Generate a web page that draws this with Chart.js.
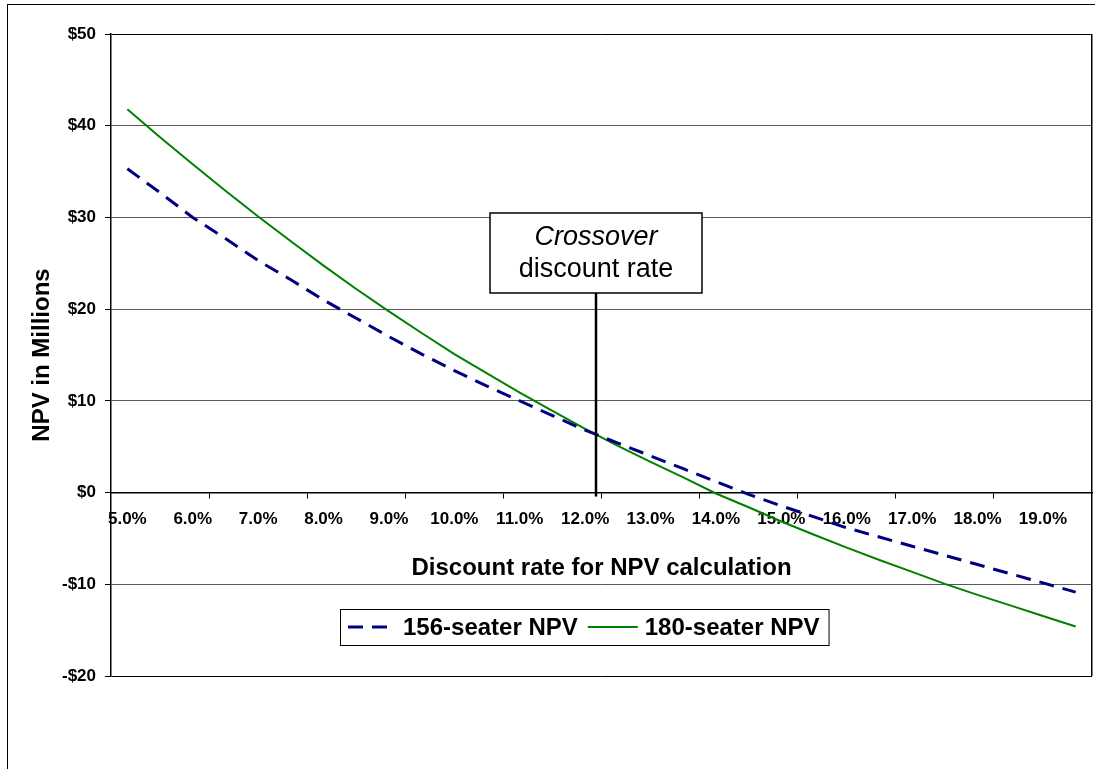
<!DOCTYPE html>
<html>
<head>
<meta charset="utf-8">
<script src="https://cdn.jsdelivr.net/npm/chart.js@4/dist/chart.umd.min.js"></script>
<style>
  html, body { margin: 0; padding: 0; background: #fff; overflow: hidden; }
  #frame { position: absolute; left: 7px; top: 4px; width: 1200px; height: 1000px; border: 1px solid #000; }
  #wrap { position: absolute; left: 0; top: 0; width: 1095px; height: 769px; }
</style>
</head>
<body>
<div id="frame"></div>
<div id="wrap"><canvas id="npv"></canvas></div>
<script>
// Discount rates evaluated (0.5 % steps)
const rateLabels = ['5.0%','5.5%','6.0%','6.5%','7.0%','7.5%','8.0%','8.5%','9.0%','9.5%',
                    '10.0%','10.5%','11.0%','11.5%','12.0%','12.5%','13.0%','13.5%','14.0%','14.5%',
                    '15.0%','15.5%','16.0%','16.5%','17.0%','17.5%','18.0%','18.5%','19.0%','19.5%'];

// NPV in $ millions for each aircraft size
const npv156 = [35.3, 32.7, 30.0, 27.7, 25.3, 23.2, 21.0, 19.0, 17.0, 15.1,
                13.3, 11.6, 10.0, 8.4, 6.8, 5.4, 4.0, 2.6, 1.2, -0.2,
                -1.45, -2.65, -3.85, -4.85, -5.85, -6.85, -7.85, -8.85, -9.85, -10.85];
const npv180 = [41.8, 38.75, 35.8, 32.9, 30.1, 27.4, 24.75, 22.2, 19.75, 17.4,
                15.1, 13.0, 10.9, 8.9, 6.95, 5.1, 3.35, 1.65, -0.1, -1.6,
                -3.15, -4.6, -6.0, -7.35, -8.65, -9.95, -11.15, -12.3, -13.45, -14.6];

// Value axis ticks ($ millions)
const npvTicks = [50, 40, 30, 20, 10, 0, -10, -20];

// Rate at which the two NPV curves meet (%)
const crossoverRate = 12.17;
const firstRate = 5.0, rateStep = 0.5;

const FONT = '"Liberation Sans", Arial, Helvetica, sans-serif';

// Black frame on the right side of the plot area
const plotFrame = {
  id: 'plotFrame',
  beforeDatasetsDraw(chart) {
    const { ctx, chartArea: a } = chart;
    ctx.save();
    ctx.strokeStyle = '#000';
    ctx.lineWidth = 1.5;
    ctx.beginPath();
    ctx.moveTo(Math.round(a.right) - 0.25, a.top);
    ctx.lineTo(Math.round(a.right) - 0.25, a.bottom);
    ctx.stroke();
    ctx.restore();
  }
};

// Callout box with a leader line at the crossover rate
const crossoverNote = {
  id: 'crossoverNote',
  afterDatasetsDraw(chart) {
    const { ctx, chartArea: a, scales: { x, y } } = chart;
    const px = Math.round(x.getPixelForValue((crossoverRate - firstRate) / rateStep));
    const boxW = 212, boxH = 80;
    const boxTop = a.top + 179;
    const left = px - boxW / 2;
    ctx.save();
    ctx.strokeStyle = '#000';
    ctx.lineWidth = 2.5;
    ctx.beginPath();
    ctx.moveTo(px, boxTop + boxH);
    ctx.lineTo(px, y.getPixelForValue(0) + 4);
    ctx.stroke();
    ctx.fillStyle = '#fff';
    ctx.fillRect(left, boxTop, boxW, boxH);
    ctx.lineWidth = 1.5;
    ctx.strokeRect(left, boxTop, boxW, boxH);
    ctx.fillStyle = '#000';
    ctx.textAlign = 'center';
    ctx.textBaseline = 'middle';
    ctx.font = 'italic 27px ' + FONT;
    ctx.fillText('Crossover', px, boxTop + 24);
    ctx.font = '27px ' + FONT;
    ctx.fillText('discount rate', px, boxTop + 57);
    ctx.restore();
  }
};

// Boxed series key inside the lower part of the plot
const seriesKey = {
  id: 'seriesKey',
  afterDraw(chart) {
    const { ctx, chartArea: a } = chart;
    const ds = chart.data.datasets;
    ctx.save();
    ctx.font = 'bold 24px ' + FONT;
    const w1 = ctx.measureText(ds[0].label).width;
    const w2 = ctx.measureText(ds[1].label).width;
    const left = a.left + 229, top = a.top + 575, h = 36;
    const sample = [42, 50];
    const width = 8 + sample[0] + 13 + w1 + 10 + sample[1] + 7 + w2 + 9;
    ctx.fillStyle = '#fff';
    ctx.fillRect(left, top, width, h);
    ctx.strokeStyle = '#000';
    ctx.lineWidth = 1;
    ctx.strokeRect(left + 0.5, top + 0.5, width, h);
    const cy = top + h / 2;
    let cx = left + 8;
    [0, 1].forEach(i => {
      const d = ds[i];
      ctx.strokeStyle = d.borderColor;
      ctx.lineWidth = d.borderWidth;
      ctx.setLineDash(d.borderDash || []);
      ctx.beginPath();
      ctx.moveTo(cx, cy);
      ctx.lineTo(cx + sample[i], cy);
      ctx.stroke();
      ctx.setLineDash([]);
      cx += sample[i] + (i === 0 ? 13 : 7);
      ctx.fillStyle = '#000';
      ctx.textAlign = 'left';
      ctx.textBaseline = 'middle';
      ctx.fillText(d.label, cx, cy + 1);
      cx += (i === 0 ? w1 : w2) + 10;
    });
    ctx.restore();
  }
};

new Chart(document.getElementById('npv'), {
  type: 'line',
  data: {
    labels: rateLabels,
    datasets: [
      {
        label: '156-seater NPV',
        data: npv156,
        borderColor: '#000080',
        borderWidth: 3,
        borderDash: [15, 9],
        pointRadius: 0,
        tension: 0,
        fill: false
      },
      {
        label: '180-seater NPV',
        data: npv180,
        borderColor: '#008000',
        borderWidth: 2,
        pointRadius: 0,
        tension: 0,
        fill: false
      }
    ]
  },
  options: {
    responsive: true,
    maintainAspectRatio: false,
    animation: false,
    devicePixelRatio: 1,
    layout: { padding: { top: 34, right: 3, bottom: 93, left: 0 } },
    plugins: {
      legend: { display: false },
      tooltip: { enabled: false }
    },
    scales: {
      x: {
        type: 'category',
        position: { y: 0 },
        offset: true,
        grid: {
          display: true,
          drawOnChartArea: false,
          drawTicks: true,
          tickLength: 5,
          offset: true,
          lineWidth: 1,
          color: c => (c.index !== undefined && c.index % 3 === 0) ? '#000' : 'rgba(0,0,0,0)'
        },
        border: { display: true, color: '#000', width: 1.5 },
        ticks: {
          autoSkip: false,
          maxRotation: 0,
          minRotation: 0,
          padding: 12,
          color: '#000',
          font: { family: FONT, size: 17, weight: 'bold' },
          callback: (v, i) => (i % 2 === 0 ? rateLabels[i] : '')
        },
        title: {
          display: true,
          text: 'Discount rate for NPV calculation',
          color: '#000',
          font: { family: FONT, size: 24, weight: 'bold' },
          padding: { top: 0, bottom: 3 }
        },
        afterFit: s => { s.height = 93; }
      },
      y: {
        min: -20,
        max: 50,
        afterBuildTicks: s => { s.ticks = npvTicks.map(v => ({ value: v })); },
        grid: {
          lineWidth: 1,
          tickLength: 6,
          tickColor: '#000',
          color: c => (c.tick && (c.tick.value === 50 || c.tick.value === -20)) ? '#000' : '#5a5a5a'
        },
        border: { display: true, color: '#000', width: 1.5 },
        ticks: {
          padding: 9,
          color: '#000',
          font: { family: FONT, size: 17, weight: 'bold' },
          callback: v => (v < 0 ? '-$' + Math.abs(v) : '$' + v)
        },
        title: {
          display: true,
          text: 'NPV in Millions',
          color: '#000',
          font: { family: FONT, size: 24, weight: 'bold' },
          padding: { top: 28, bottom: 0 }
        },
        afterFit: s => { s.width = 111; }
      }
    }
  },
  plugins: [plotFrame, crossoverNote, seriesKey]
});
</script>
</body>
</html>
